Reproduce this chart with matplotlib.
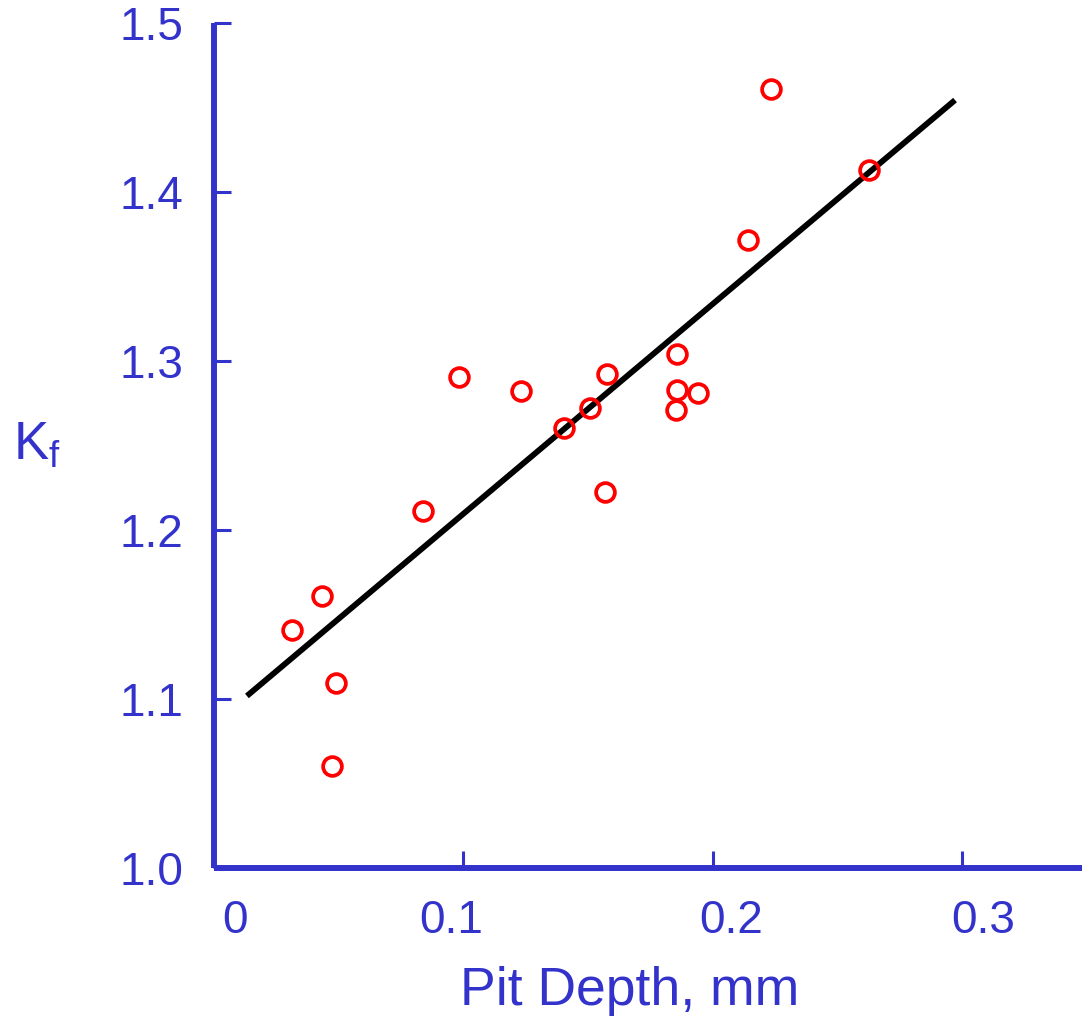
import matplotlib
matplotlib.use('Agg')
import matplotlib.pyplot as plt
import matplotlib.transforms as mtransforms

# Pit depth (mm) vs fatigue notch factor Kf
pit_depth = [0.0313, 0.0433, 0.0489, 0.0473, 0.0838, 0.0982, 0.1231, 0.1403, 0.1508,
             0.1576, 0.1568, 0.1856, 0.1856, 0.1852, 0.1941, 0.2141, 0.2233, 0.2626]
kf = [1.1408, 1.1609, 1.1095, 1.0604, 1.2112, 1.2905, 1.2822, 1.2604, 1.2722,
      1.2923, 1.2225, 1.3041, 1.2828, 1.2710, 1.2811, 1.3716, 1.4609, 1.4130]

# fitted line (end points)
fit_x = [0.0132, 0.2971]
fit_y = [1.1018, 1.4544]

xticks = [0, 0.1, 0.2, 0.3]
xtick_labels = ['0', '0.1', '0.2', '0.3']
yticks = [1.0, 1.1, 1.2, 1.3, 1.4, 1.5]
ytick_labels = ['1.0', '1.1', '1.2', '1.3', '1.4', '1.5']

BLUE = '#3333CC'

plt.rcParams['font.family'] = ['Liberation Sans', 'DejaVu Sans']
plt.rcParams['mathtext.fontset'] = 'custom'
plt.rcParams['mathtext.rm'] = 'Liberation Sans'

fig = plt.figure(figsize=(10.82, 10.22), dpi=100)
ax = fig.add_axes([214 / 1082, 154 / 1022, 868 / 1082, 845 / 1022])

ax.plot(fit_x, fit_y, color='black', lw=4.2, solid_capstyle='butt', zorder=2)
ax.plot(pit_depth, kf, ls='none', marker='o', ms=13.5, mfc='none', mec='#FF0000',
        mew=2.7, zorder=3, clip_on=False)

ax.set_xlim(0, 0.348)
ax.set_ylim(1.0, 1.5)

for s in ['top', 'right']:
    ax.spines[s].set_visible(False)
for s in ['left', 'bottom']:
    ax.spines[s].set_color(BLUE)
    ax.spines[s].set_linewidth(4.3)
    ax.spines[s].set_capstyle('butt')

ax.set_xticks(xticks)
ax.set_xticklabels(xtick_labels)
ax.set_yticks(yticks)
ax.set_yticklabels(ytick_labels)
ax.tick_params(direction='in', length=12, width=2.2, color=BLUE,
               labelcolor=BLUE, labelsize=33, pad=22)

# tick labels in the original are nudged sideways a little
x_offsets_px = [21, -12, 18, 21]
for lab, dx in zip(ax.get_xticklabels(), x_offsets_px):
    lab.set_transform(lab.get_transform() +
                      mtransforms.ScaledTranslation(dx / 100, 0, fig.dpi_scale_trans))

ax.set_xlabel('Pit Depth, mm', fontsize=38.5, color=BLUE, va='center')
ax.xaxis.set_label_coords(0.479, -0.146)
ax.set_ylabel(r'$\mathrm{K_f}$', fontsize=38, color=BLUE, rotation=0,
              ha='center', va='center')
ax.yaxis.set_label_coords(-0.204, 0.5)

fig.savefig('out.png', dpi=100)
plt.close(fig)
